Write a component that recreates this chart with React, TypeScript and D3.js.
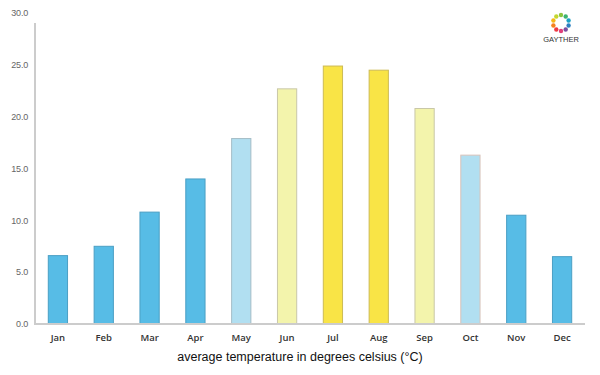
import React from "react";
import * as d3 from "d3";

const months = ["Jan", "Feb", "Mar", "Apr", "May", "Jun", "Jul", "Aug", "Sep", "Oct", "Nov", "Dec"];
const temps = [6.6, 7.5, 10.8, 14.0, 17.9, 22.7, 24.9, 24.5, 20.8, 16.3, 10.5, 6.5];
const fills = ["#57BCE6", "#57BCE6", "#57BCE6", "#57BCE6", "#B1DFF1", "#F3F4AC", "#F9E446", "#F9E446", "#F3F4AC", "#B1DFF1", "#57BCE6", "#57BCE6"];
const strokes = ["#4A9FC4", "#4A9FC4", "#4A9FC4", "#4A9FC4", "#A4BCC6", "#C9C7A8", "#CDBB55", "#CDBB55", "#C9C7A8", "#D9C2BA", "#4A9FC4", "#4A9FC4"];
const yTicks = [0, 5, 10, 15, 20, 25, 30];
const caption = "average temperature in degrees celsius (°C)";
const logoColors = ["#8BC53F", "#3CB371", "#1BA1C6", "#2E7FC1", "#7B4FA0", "#E0407B", "#EE3A43", "#F58220", "#F7B718", "#C3D72F"];

export default function App() {
  const W = 600, H = 375;
  const x = d3.scaleBand<string>().domain(months).range([35, 585]).paddingInner(0.58).paddingOuter(0.29);
  const y = d3.scaleLinear().domain([0, 30]).range([324, 13.2]);
  const logoCx = 561, logoCy = 23, logoR = 8;
  return (
    <svg width={W} height={H} style={{ position: "absolute", left: 0, top: 0, background: "#fff" }}>
      {temps.map((v, i) => (
        <rect key={months[i]} x={x(months[i])!} y={y(v)} width={x.bandwidth()} height={y(0) - y(v)}
          fill={fills[i]} stroke={strokes[i]} strokeWidth={1} />
      ))}
      <line x1={35} x2={35} y1={23} y2={324} stroke="#cccccc" strokeWidth={2} />
      <line x1={34} x2={585} y1={324} y2={324} stroke="#cccccc" strokeWidth={2} />
      {yTicks.map(t => (
        <text key={t} x={28} y={y(t)} dy="0.35em" textAnchor="end" fontSize={9}
          fontFamily="'Liberation Sans', Arial, sans-serif" fill="#666" letterSpacing={-0.2}>{t.toFixed(1)}</text>
      ))}
      {months.map(m => (
        <text key={m} x={x(m)! + x.bandwidth() / 2} y={341} textAnchor="middle" fontSize={9.5}
          fontWeight={600} fontFamily="'Open Sans', sans-serif" fill="#333">{m}</text>
      ))}
      <text x={300} y={361} textAnchor="middle" fontSize={12.5} fontFamily="'Liberation Sans', Arial, sans-serif" fill="#111">{caption}</text>
      <g>
        {logoColors.map((c, i) => {
          const a = (i / logoColors.length) * 2 * Math.PI - Math.PI / 2;
          return <circle key={i} cx={logoCx + logoR * Math.cos(a)} cy={logoCy + logoR * Math.sin(a)} r={2.2} fill={c} />;
        })}
        <text x={logoCx} y={42} textAnchor="middle" fontSize={7.5} fontFamily="'Liberation Sans', Arial, sans-serif" fill="#333">GAYTHER</text>
      </g>
    </svg>
  );
}
